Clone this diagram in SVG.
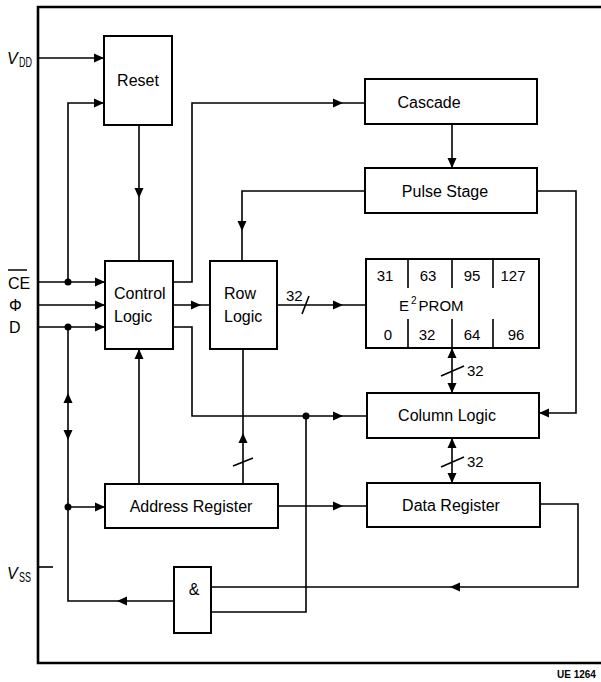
<svg xmlns="http://www.w3.org/2000/svg" xmlns:xlink="http://www.w3.org/1999/xlink" width="601" height="682" viewBox="0 0 601 682">
<style>
.box{fill:#fff;stroke:#000;stroke-width:2}
.ln{fill:none;stroke:#000;stroke-width:1.6}
.frame{fill:none;stroke:#000;stroke-width:2.6}
.t{font-family:"Liberation Sans",Arial,sans-serif;font-size:16px;fill:#000}
.n{font-family:"Liberation Sans",Arial,sans-serif;font-size:15px;fill:#000}
.c{text-anchor:middle}
</style>
<defs>
<path id="ah" d="M0,0 L-10,-4.5 L-10,4.5 Z" fill="#000"/>
</defs>
<rect width="601" height="682" fill="#fff"/>
<polyline class="frame" points="601,7 38,7 38,663 601,663"/>
<g id="labels">
<text class="t" x="7" y="64" font-style="italic" font-size="16">V</text>
<text class="n" x="19" y="67" font-size="11" textLength="13" lengthAdjust="spacingAndGlyphs">DD</text>
<text class="t" x="8" y="289">CE</text>
<line x1="8" y1="270" x2="27" y2="270" stroke="#000" stroke-width="1.5"/>
<text class="t" x="9" y="311">Φ</text>
<text class="t" x="9" y="333">D</text>
<text class="t" x="7" y="579" font-style="italic" font-size="16">V</text>
<text class="n" x="19" y="582" font-size="11" textLength="12" lengthAdjust="spacingAndGlyphs">SS</text>
<text x="557" y="678" font-family="Liberation Sans,Arial,sans-serif" font-size="10" font-weight="bold">UE 1264</text>
</g>
<g id="connectors">
<path class="ln" d="M38,58 H104"/>
<use xlink:href="#ah" transform="translate(104,58)"/>
<path class="ln" d="M38,282 H105 M68,282 V103 H104"/>
<use xlink:href="#ah" transform="translate(105,282)"/>
<use xlink:href="#ah" transform="translate(104,103)"/>
<circle cx="68" cy="282" r="3.5"/>
<path class="ln" d="M38,305 H105"/>
<use xlink:href="#ah" transform="translate(105,305)"/>
<path class="ln" d="M38,327 H105"/>
<use xlink:href="#ah" transform="translate(105,327)"/>
<circle cx="68" cy="327" r="3.5"/>
<path class="ln" d="M68,327 V601 H174"/>
<use xlink:href="#ah" transform="translate(68,393) rotate(-90)"/>
<use xlink:href="#ah" transform="translate(68,440) rotate(90)"/>
<use xlink:href="#ah" transform="translate(117,601) rotate(180)"/>
<circle cx="68" cy="507" r="3.5"/>
<path class="ln" d="M68,507 H105"/>
<use xlink:href="#ah" transform="translate(105,507)"/>
<path class="ln" d="M139,125 V261"/>
<use xlink:href="#ah" transform="translate(139,198) rotate(90)"/>
<path class="ln" d="M173,282 H192 V103 H365"/>
<use xlink:href="#ah" transform="translate(343,103)"/>
<path class="ln" d="M173,305 H210"/>
<use xlink:href="#ah" transform="translate(201,305)"/>
<path class="ln" d="M173,327 H192 V416 H367"/>
<use xlink:href="#ah" transform="translate(343,416)"/>
<circle cx="306" cy="416" r="3.5"/>
<path class="ln" d="M452,124 V168"/>
<use xlink:href="#ah" transform="translate(452,168) rotate(90)"/>
<path class="ln" d="M365,191 H242 V261"/>
<use xlink:href="#ah" transform="translate(242,231) rotate(90)"/>
<path class="ln" d="M537,191 H576 V413 H539"/>
<use xlink:href="#ah" transform="translate(539,413) rotate(180)"/>
<path class="ln" d="M277,305 H366 M302,314 L309,296"/>
<use xlink:href="#ah" transform="translate(343,305)"/>
<text class="n" x="286" y="301">32</text>
<path class="ln" d="M452,348 V393 M441,376 L464,366"/>
<use xlink:href="#ah" transform="translate(452,348) rotate(-90)"/>
<use xlink:href="#ah" transform="translate(452,393) rotate(90)"/>
<text class="n" x="467" y="376">32</text>
<path class="ln" d="M452,438 V483 M441,467 L464,457"/>
<use xlink:href="#ah" transform="translate(452,438) rotate(-90)"/>
<use xlink:href="#ah" transform="translate(452,483) rotate(90)"/>
<text class="n" x="467" y="467">32</text>
<path class="ln" d="M139,484 V349"/>
<use xlink:href="#ah" transform="translate(139,349) rotate(-90)"/>
<path class="ln" d="M243,484 V349 M233,466 L253,458"/>
<use xlink:href="#ah" transform="translate(243,433) rotate(-90)"/>
<path class="ln" d="M278,506 H367"/>
<use xlink:href="#ah" transform="translate(343,506)"/>
<path class="ln" d="M540,504 H578 V587 H211"/>
<use xlink:href="#ah" transform="translate(450,587) rotate(180)"/>
<path class="ln" d="M306,416 V612 H211"/>
<path class="ln" d="M38,567 H53"/>
</g>
<g id="reset">
<rect class="box" x="104" y="36" width="68" height="89"/>
<text class="t c" x="138" y="86">Reset</text>
</g>
<g id="control-logic">
<rect class="box" x="105" y="261" width="68" height="88"/>
<text class="t" x="114" y="299">Control</text>
<text class="t" x="114" y="322">Logic</text>
</g>
<g id="row-logic">
<rect class="box" x="210" y="261" width="67" height="88"/>
<text class="t" x="224" y="299">Row</text>
<text class="t" x="224" y="322">Logic</text>
</g>
<g id="cascade">
<rect class="box" x="365" y="79" width="172" height="45"/>
<text class="t c" x="429" y="108">Cascade</text>
</g>
<g id="pulse-stage">
<rect class="box" x="365" y="168" width="172" height="45"/>
<text class="t c" x="445" y="197">Pulse Stage</text>
</g>
<g id="e2prom">
<rect class="box" x="366" y="259" width="173" height="89"/>
<path class="ln" d="M408,259 V288 M452,259 V288 M493,259 V288 M408,319 V348 M452,319 V348 M493,319 V348"/>
<text class="n c" x="385" y="281">31</text>
<text class="n c" x="428" y="281">63</text>
<text class="n c" x="472" y="281">95</text>
<text class="n c" x="513" y="281">127</text>
<text class="n" x="399" y="311">E<tspan font-size="10" dy="-7" dx="2">2</tspan><tspan dy="7" dx="2">PROM</tspan></text>
<text class="n c" x="388" y="340">0</text>
<text class="n c" x="427" y="340">32</text>
<text class="n c" x="472" y="340">64</text>
<text class="n c" x="516" y="340">96</text>
</g>
<g id="column-logic">
<rect class="box" x="367" y="393" width="172" height="45"/>
<text class="t c" x="447" y="421">Column Logic</text>
</g>
<g id="address-register">
<rect class="box" x="105" y="484" width="173" height="44"/>
<text class="t c" x="191" y="512">Address Register</text>
</g>
<g id="data-register">
<rect class="box" x="367" y="483" width="173" height="44"/>
<text class="t c" x="451" y="511">Data Register</text>
</g>
<g id="and-gate">
<rect class="box" x="174" y="567" width="37" height="66"/>
<text class="t c" x="194" y="595">&amp;</text>
</g>
</svg>
